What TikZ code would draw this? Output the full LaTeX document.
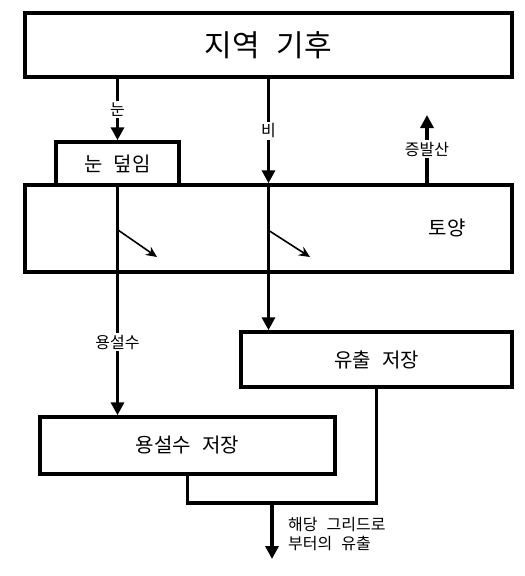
\documentclass[tikz,border=0pt]{standalone}
\usepackage{fontspec}
\setmainfont[WordSpace=2.5]{Noto Sans CJK KR}
\usetikzlibrary{arrows.meta}

\tikzset{
  box/.style={draw, line width=3.5pt, inner sep=0pt},
  wire/.style={line width=3.5pt},
  flow/.style={wire, -{Triangle[length=13pt,width=13pt]}},
  seep/.style={line width=1.6pt, -{Stealth[length=11pt,width=10pt]}},
  lbl/.style={fill=white, inner sep=2pt, font=\fontsize{16}{18}\selectfont},
  boxtxt/.style={font=\fontsize{20}{22}\selectfont}
}

\begin{document}
\begin{tikzpicture}[x=1pt, y=-1pt]
\useasboundingbox (0,0) rectangle (525,576);

% boxes
\node[box, minimum width=487, minimum height=64, font=\fontsize{30}{32}\selectfont] (climate) at (268.5,45) {지역 기후};
\node[box, boxtxt, minimum width=123, minimum height=43] (snowcover) at (117.5,163.5) {눈 덮임};
\node[box, minimum width=487, minimum height=87] (soil) at (268.5,228.5) {};
\node[boxtxt] (soiltxt) at (447,228) {토양};
\node[box, boxtxt, minimum width=271, minimum height=55] (runoff) at (376.5,359.5) {유출 저장};
\node[box, boxtxt, minimum width=295, minimum height=57] (melt) at (187.5,445.5) {용설수 저장};

\coordinate (evtop) at (427,115);
\coordinate (inf1) at (118,230);
\coordinate (inf1e) at (157,257);
\coordinate (inf2) at (268,230);
\coordinate (inf2e) at (310,257);
\coordinate (join) at (272,503);
\coordinate (out) at (272,559);

% flows
\draw[flow] (snowcover.north |- climate.south) -- (snowcover.north) node[lbl, midway] {눈};
\draw[flow] (climate.south) -- (climate.south |- soil.north) node[lbl, midway] {비};
\draw[flow] (evtop |- soil.north) -- (evtop) node[lbl, midway] {증발산};
\draw[flow] (snowcover.south) -- (snowcover.south |- melt.north) node[lbl, pos=0.68] {용설수};
\draw[flow] (climate.south |- soil.north) -- (climate.south |- runoff.north);
\draw[seep] (inf1) -- (inf1e);
\draw[seep] (inf2) -- (inf2e);
\draw[wire] (melt.south) |- (join) -| (runoff.south);
\draw[flow] (join) -- (out);
\node[anchor=west, align=left, inner sep=0pt, font=\fontsize{16}{19}\selectfont] (outtxt) at (288,534) {해당 그리드로\\부터의 유출};
\end{tikzpicture}
\end{document}
